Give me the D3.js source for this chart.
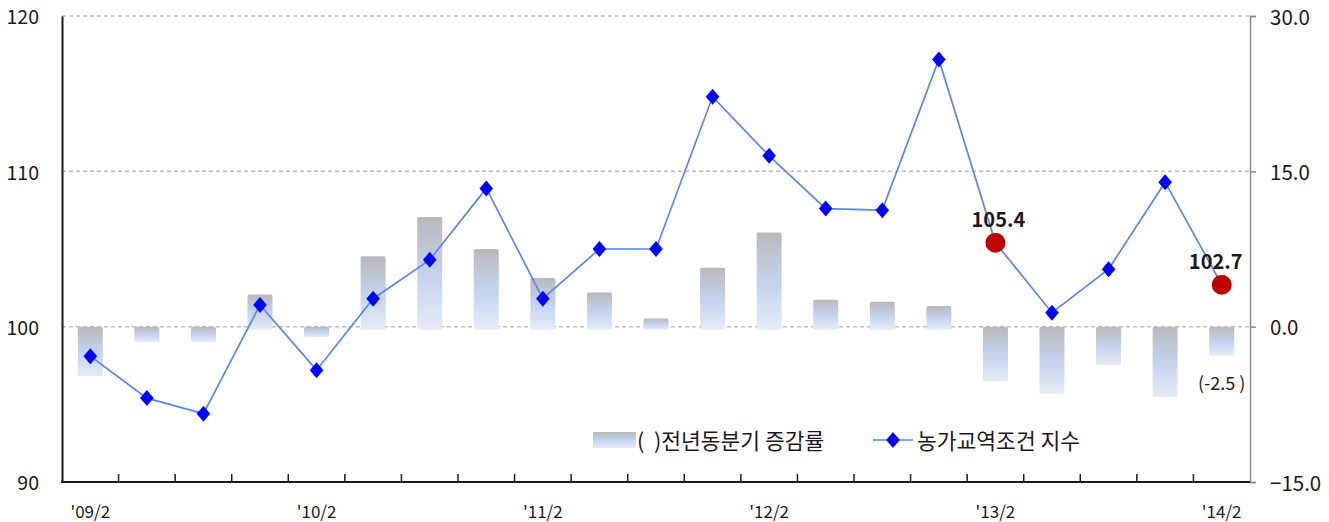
<!DOCTYPE html>
<html>
<head>
<meta charset="utf-8">
<script src="https://cdn.jsdelivr.net/npm/d3@7"></script>
<style>
  html, body { margin: 0; padding: 0; background: #fff; }
  svg { display: block; }
  text { font-family: "Noto Sans CJK KR", "Noto Sans", sans-serif; fill: #1a1a1a; white-space: pre; }
</style>
</head>
<body>
<svg id="chart" width="1329" height="522"></svg>
<script>
// ---------------- data ----------------
const categories = ["'09/2","'09/3","'09/4","'10/1","'10/2","'10/3","'10/4","'11/1","'11/2","'11/3","'11/4",
                    "'12/1","'12/2","'12/3","'12/4","'13/1","'13/2","'13/3","'13/4","'14/1","'14/2"];
// 전년동분기 증감률 (%), right axis
const changeRate = [-4.5, -1.2, -1.2, 3.1, -0.7, 6.8, 10.6, 7.5, 4.7, 3.3, 0.8,
                    5.7, 9.1, 2.6, 2.4, 2.0, -5.0, -6.2, -3.4, -6.5, -2.5];
// 농가교역조건 지수, left axis
const termsIndex = [98.1, 95.4, 94.4, 101.4, 97.2, 101.8, 104.3, 108.9, 101.8, 105.0, 105.0,
                    114.8, 111.0, 107.6, 107.5, 117.2, 105.4, 100.9, 103.7, 109.3, 102.7];
const xTickLabels = ["'09/2","'10/2","'11/2","'12/2","'13/2","'14/2"];
const leftTicks = [90, 100, 110, 120];
const rightTicks = [-15, 0, 15, 30];
const highlighted = ["'13/2", "'14/2"];
const seriesNames = ["(  )전년동분기 증감률", "농가교역조건 지수"];
const rateNote = "(-2.5 )";

// ---------------- layout ----------------
const L = 62, R = 1250, T = 16, B = 482;
const labelDx = [3, -6];   // horizontal nudges for the highlighted value labels
const svg = d3.select("#chart");

const x = d3.scaleBand().domain(categories).range([L, R]).paddingInner(0.558).paddingOuter(0.279);
const yL = d3.scaleLinear().domain([90, 120]).range([B, T]);
const yR = d3.scaleLinear().domain([-15, 30]).range([B, T]);
const cx = c => x(c) + x.bandwidth() / 2;

// gradient for bars
const defs = svg.append("defs");
const grad = defs.append("linearGradient").attr("id", "barGrad").attr("x1", 0).attr("y1", 0).attr("x2", 0).attr("y2", 1);
grad.append("stop").attr("offset", "0%").attr("stop-color", "#b9b9b9");
grad.append("stop").attr("offset", "50%").attr("stop-color", "#c3d2ee");
grad.append("stop").attr("offset", "100%").attr("stop-color", "#e5ebf7");

// gridlines
svg.append("g").selectAll("line").data([100, 110, 120]).join("line")
  .attr("x1", L).attr("x2", R)
  .attr("y1", d => yL(d)).attr("y2", d => yL(d))
  .attr("stroke", "#bdbdbd").attr("stroke-width", 1.5).attr("stroke-dasharray", "4,3");

// bars
svg.append("g").selectAll("rect").data(categories).join("rect")
  .attr("x", c => x(c))
  .attr("width", x.bandwidth())
  .attr("y", (c, i) => changeRate[i] >= 0 ? yR(changeRate[i]) : yR(0))
  .attr("height", (c, i) => Math.abs(yR(changeRate[i]) - yR(0)) + 3)
  .attr("rx", 1.5)
  .attr("fill", "url(#barGrad)");

// left axis
const gLeft = svg.append("g").attr("transform", `translate(${L},0)`)
  .call(d3.axisLeft(yL).tickValues(leftTicks).tickSize(0).tickPadding(23).tickFormat(d3.format("d")));
gLeft.select(".domain").attr("stroke", "#1a1a1a").attr("stroke-width", 2);
gLeft.selectAll("text").attr("font-size", 19.5).attr("fill", "#222").attr("dy", "0.4em");

// right axis
const gRight = svg.append("g").attr("transform", `translate(${R},0)`)
  .call(d3.axisRight(yR).tickValues(rightTicks).tickSize(6).tickPadding(14).tickFormat(d3.format(".1f")));
gRight.select(".domain").attr("stroke", "#8a8a8a").attr("stroke-width", 1.5);
gRight.selectAll(".tick line").attr("stroke", "#8a8a8a").attr("stroke-width", 1.5);
gRight.selectAll("text").attr("font-size", 20.5).attr("fill", "#222").attr("dy", "0.4em");

// bottom axis: ticks at category boundaries
const boundaries = categories.slice(1).map(c => x(c) - (x.step() - x.bandwidth()) / 2);
svg.append("g").selectAll("line").data(boundaries).join("line")
  .attr("x1", d => d).attr("x2", d => d).attr("y1", B).attr("y2", B - 8)
  .attr("stroke", "#1a1a1a").attr("stroke-width", 1.5);
svg.append("line").attr("x1", L - 1).attr("x2", R).attr("y1", B).attr("y2", B)
  .attr("stroke", "#1a1a1a").attr("stroke-width", 2);
svg.append("g").selectAll("text").data(xTickLabels).join("text")
  .attr("x", d => cx(d)).attr("y", 518)
  .attr("text-anchor", "middle").attr("font-size", 17).attr("fill", "#222")
  .text(d => d);

// line series
const line = d3.line().x((d, i) => cx(categories[i])).y(d => yL(d));
svg.append("path").datum(termsIndex).attr("d", line)
  .attr("fill", "none").attr("stroke", "#5a86f4").attr("stroke-width", 1.7);

const diamond = { draw(ctx, size) { const h = 8, w = 6.8; ctx.moveTo(0, -h); ctx.lineTo(w, 0); ctx.lineTo(0, h); ctx.lineTo(-w, 0); ctx.closePath(); } };
const pts = categories.map((c, i) => ({ c, v: termsIndex[i] }));
svg.append("g").selectAll("path").data(pts.filter(p => !highlighted.includes(p.c))).join("path")
  .attr("transform", p => `translate(${cx(p.c)},${yL(p.v)})`)
  .attr("d", d3.symbol().type(diamond)())
  .attr("fill", "#0000ff");
const hl = pts.filter(p => highlighted.includes(p.c));
svg.append("g").selectAll("circle").data(hl).join("circle")
  .attr("cx", p => cx(p.c)).attr("cy", p => yL(p.v)).attr("r", 10)
  .attr("fill", "#c00000");
svg.append("g").selectAll("text").data(hl).join("text")
  .attr("x", (p, i) => cx(p.c) + labelDx[i]).attr("y", p => yL(p.v) - 16)
  .attr("text-anchor", "middle").attr("font-size", 20).attr("font-weight", "bold").attr("fill", "#111")
  .text(p => p.v.toFixed(1));

// note under last bar
const lastC = categories[categories.length - 1];
svg.append("text").attr("x", cx(lastC)).attr("y", 390).attr("text-anchor", "middle")
  .attr("font-size", 18).attr("fill", "#222").text(rateNote);

// legend
const lg = svg.append("g");
lg.append("rect").attr("x", 593).attr("y", 432).attr("width", 43).attr("height", 16).attr("fill", "url(#barGrad)");
lg.append("text").attr("x", 637).attr("y", 449).attr("font-size", 21.5).attr("fill", "#222").text(seriesNames[0]);
lg.append("line").attr("x1", 873).attr("x2", 913).attr("y1", 440).attr("y2", 440).attr("stroke", "#5a86f4").attr("stroke-width", 1.7);
lg.append("path").attr("transform", "translate(893,440)").attr("d", d3.symbol().type(diamond)()).attr("fill", "#0000ff");
lg.append("text").attr("x", 917).attr("y", 449).attr("font-size", 21.5).attr("fill", "#222").text(seriesNames[1]);
</script>
</body>
</html>
